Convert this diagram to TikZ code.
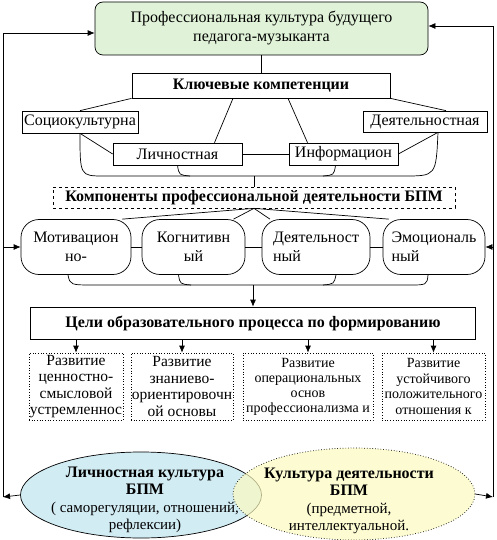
\documentclass[tikz,border=0pt]{standalone}
\usepackage{fontspec}
\setmainfont{Liberation Serif}
\usetikzlibrary{arrows.meta,calc,positioning,shapes.geometric}
\definecolor{mint}{RGB}{224,242,216}
\definecolor{sky}{RGB}{210,236,244}
\definecolor{cream}{RGB}{252,250,190}

\begin{document}
\begin{tikzpicture}[x=1pt,y=-1pt,>={Latex[length=7pt,width=6pt]},line width=0.7pt,
  every node/.style={font=\fontsize{16}{19}\selectfont},
  plain/.style={draw,rectangle,inner sep=1pt},
  heading/.style={draw,rectangle,inner sep=1pt,font=\bfseries\fontsize{16}{19}\selectfont},
  rbox/.style={draw,rectangle,rounded corners=18pt,minimum height=55,inner sep=3pt},
  goal/.style={draw,dotted,rectangle,minimum height=67,inner xsep=1pt,inner ysep=0pt,align=center}]
\useasboundingbox (0,0) rectangle (496,540);

% top of the scheme
\node[draw,rounded corners=8pt,fill=mint,minimum width=333,minimum height=53,inner sep=0,align=center] (top) at (261.5,28.5) {Профессиональная культура будущего\\педагога-музыканта};
\node[heading,minimum width=258,minimum height=25] (key) at (261,85.5) {Ключевые компетенции};
\draw (top.south) -- (top.south |- key.north);

% key competences
\node[plain,minimum width=116,minimum height=22] (soc) at (80,122) {Социокультурна};
\node[plain,minimum width=124,minimum height=21] (deyat) at (425,121.5) {Деятельностная};
\node[plain,minimum width=129,minimum height=22] (lich) at (177.5,154) {Личностная};
\node[plain,minimum width=109,minimum height=22] (info) at (343.5,154) {Информацион};
\draw (key.south west) -- (soc.north);
\draw ($(key.south)+(-28,0)$) -- ($(lich.north)+(37,0)$);
\draw ($(key.south)+(27,0)$) -- ($(info.north)+(-36,0)$);
\draw (key.south east) -- ($(deyat.north)+(21,0)$);
\draw (lich.east) -- (info.west);
\draw (soc.south) -- (lich.west);
\draw ($(deyat.south)+(13,0)$) -- (info.east);
\coordinate (hubA) at (254,176);
\draw (soc.south) .. controls (80,176) .. (104,176) -- (404,176) .. controls (436,176) .. ($(deyat.south)+(13,0)$);
\draw (lich.south) .. controls (179,175) .. (190,176);
\draw ($(info.south)+(-8,0)$) .. controls (334,175) .. (323,176);

% components
\node[heading,dashed,minimum width=402,minimum height=21] (komp) at (254,197.5) {Компоненты профессиональной деятельности БПМ};
\draw (hubA) -- (komp.north);
\node[rbox,minimum width=110,align=center] (motiv) at (76,247) {Мотивацион\\но-};
\node[rbox,minimum width=103,align=center] (kogn) at (193.5,247) {Когнитивн\\ый};
\node[rbox,minimum width=108,align=left] (dbox) at (316,247) {Деятельност\\ный};
\node[rbox,minimum width=102,align=left] (emo) at (434,247) {Эмоциональ\\ный};
\draw ($(motiv.north)+(46,0)$) -- (komp.south) -- ($(emo.north)+(-45,0)$);
\draw ($(kogn.north)+(40,0)$) -- (komp.south) -- ($(dbox.north)+(-46,0)$);
\draw (motiv.east) -- (kogn.west);
\draw (kogn.east) -- (dbox.west);
\draw (dbox.east) -- (emo.west);
\coordinate (hubB) at (253,285);
\draw ($(motiv.south)+(-8,0)$) .. controls (70,285) .. (95,285) -- (408,285) .. controls (427,285) .. ($(emo.south)+(-6,0)$);
\draw ($(kogn.south)+(-15,0)$) .. controls (180,284) .. (191,285);
\draw ($(dbox.south)+(20,0)$) .. controls (334,284) .. (323,285);

% goals
\node[plain,minimum width=445,minimum height=32,font=\bfseries\fontsize{16}{19}\selectfont] (celi) at (253,323) {Цели образовательного процесса по формированию};
\draw[->] (hubB) -- (celi.north);
\node[goal,minimum width=94,font=\fontsize{15.5}{16.5}\selectfont] (g1) at (76,386.5) {Развитие\\ценностно-\\смысловой\\устремленнос};
\node[goal,minimum width=100,font=\fontsize{15.5}{16.5}\selectfont] (g2) at (182,386.5) {Развитие\\знаниево-\\ориентировочн\\ой основы};
\node[goal,minimum width=130,font=\fontsize{14}{15}\selectfont] (g3) at (308,386.5) {Развитие\\операциональных\\основ\\профессионализма и};
\node[goal,minimum width=103,font=\fontsize{14}{15.5}\selectfont] (g4) at (433.5,386.5) {Развитие\\устойчивого\\положительного\\отношения к};
\foreach \g in {g1,g2,g3,g4}
  \draw[->] (\g.north |- celi.south) -- (\g.north);

% cultures
\node[ellipse,draw,fill=sky,minimum width=241,minimum height=86,inner sep=0] (lk) at (141,495) {};
\node[ellipse,draw,dotted,fill=cream,fill opacity=0.7,minimum width=242,minimum height=92,inner sep=0] (rk) at (354,494) {};
\node[align=center,font=\fontsize{15}{17.3}\selectfont] (lkt) at (145,500) {\textbf{\fontsize{16}{17.3}\selectfont Личностная культура}\\\textbf{\fontsize{16}{17.3}\selectfont БПМ}\\( саморегуляции, отношений,\\рефлексии)};
\node[align=center,font=\fontsize{15}{17.3}\selectfont] (rkt) at (349,501) {\textbf{\fontsize{16}{17.3}\selectfont Культура деятельности}\\\textbf{\fontsize{16}{17.3}\selectfont БПМ}\\(предметной,\\интеллектуальной.};

% feedback lines
\coordinate (lb) at (3,497);
\coordinate (lt) at (3,33);
\coordinate (rb) at (493,497);
\coordinate (rt) at (493,26);
\draw[->] (lk.west) -- (lb);
\draw[->] (lb) -- (lt) -- (lt -| top.west);
\draw[->] (lb |- motiv.west) -- (motiv.west);
\draw[->] (rk.east) -- (rb);
\draw[->] (rb) -- (rt) -- (rt -| top.east);
\draw[->] (rb |- emo.east) -- (emo.east);
\end{tikzpicture}
\end{document}
